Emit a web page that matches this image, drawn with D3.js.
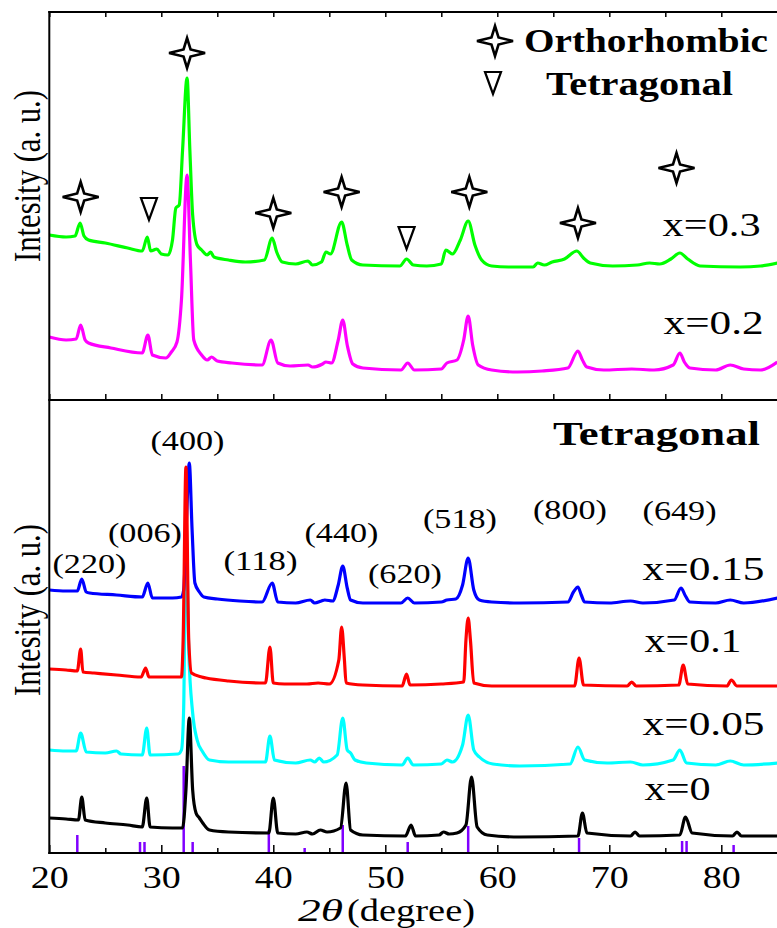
<!DOCTYPE html>
<html>
<head>
<meta charset="utf-8">
<script src="https://cdn.jsdelivr.net/npm/d3@7"></script>
<style>
  body { margin: 0; background: #fff; }
  svg { display: block; }
  svg text { font-family: "Liberation Serif", "Times New Roman", Times, serif; }
</style>
</head>
<body>
<div id="chart"></div>
<script>
// XRD patterns, [2theta, intensity (a.u.)]
const x03 = [[20,165],[21.5,163],[22.3,164],[22.75,177],[23.1,164],[23.5,160],[25,157],[27,152],[28.3,149],[28.75,163],[29.05,149],[29.6,151],[30,146],[30.6,145],[31,160],[31.3,192],[31.6,195],[31.9,250],[32.3,322],[32.55,250],[32.8,185],[33.2,155],[33.6,150],[34.1,145],[34.4,148],[34.7,143],[36,140],[37.5,138],[39.2,140],[39.9,162],[40.3,148],[40.8,138],[42,136],[43.1,139],[43.5,135],[44.3,138],[44.7,148],[45.1,146],[46.1,178],[46.6,155],[47,140],[48,135],[51.3,134],[51.9,141],[52.5,135],[53.7,134],[55,136],[55.4,150],[56,146],[56.7,160],[57.4,179],[58,155],[58.6,140],[59.5,134],[61,133],[63.2,133],[63.6,137],[64.2,135],[64.9,138],[66,141],[67.1,149],[67.7,142],[68.3,137],[70.3,134],[72.5,135],[73.6,137],[74.5,136],[75.5,141],[76.3,147],[77,141],[78.1,134],[81.7,133],[83.5,134],[85,137]];
const x02 = [[20,63],[21.5,60],[22.4,61],[22.8,75],[23.2,60],[23.5,57],[25.5,52],[28.3,47],[28.8,65],[29.2,45],[30.4,42],[30.9,48],[31.4,58],[31.8,100],[32.3,225],[32.6,140],[32.9,60],[33.6,45],[34.1,40],[34.5,43],[35,39],[36.3,37],[39,35],[39.8,60],[40.4,37],[41.5,34],[43.1,35],[43.5,33],[44.4,36],[44.7,38],[45.2,37],[45.8,60],[46.2,80],[46.6,55],[47.1,36],[48,32],[51.4,30],[52,37],[52.6,30],[55,31],[55.5,37],[56.4,40],[57,60],[57.4,84],[57.8,55],[58.3,35],[59.5,30],[61.8,28],[64,29],[66.3,32],[67.2,49],[67.6,40],[68,33],[69.5,30],[72,31],[74,30],[75.7,35],[76.3,47],[76.7,38],[77.2,32],[79.5,30],[80.8,35],[82,31],[83.5,30],[85,38]];
const x015 = [[20,263],[21.5,262],[22.5,262],[22.9,274],[23.3,261],[23.6,260],[26,258],[28.3,256],[28.8,270],[29.2,255],[31,255],[31.8,256],[32,263],[32.25,333],[32.5,390],[32.75,323],[33,270],[33.4,261],[33.8,256],[35,254],[37,252],[39,251],[39.9,270],[40.4,251],[42,250],[43.3,253],[43.7,250],[44.3,252],[44.6,253],[45.3,252],[45.8,268],[46.2,287],[46.6,265],[46.9,253],[48,250],[51.4,250],[52,255],[52.6,250],[55,251],[55.5,253],[56.3,254],[56.9,268],[57.4,295],[57.9,263],[58.4,253],[59.5,251],[62,250],[66.3,251],[66.8,261],[67.2,266],[67.5,258],[67.8,251],[70,250],[71.9,252],[73,250],[75.8,253],[76.4,265],[76.8,257],[77.2,251],[79.5,250],[80.8,253],[82,250],[85,255]];
const x01 = [[20,184],[21.5,183],[22.5,182],[22.8,204],[23,181],[24,180],[26,178],[28.2,176],[28.6,185],[28.9,176],[30,176],[31.8,176],[31.95,213],[32.2,386],[32.45,213],[32.7,180],[33.6,176],[34,175],[36,172],[39.3,170],[39.7,206],[40,170],[41,169],[43,169],[44,170],[45,169],[45.85,193],[46.1,226],[46.35,193],[46.5,170],[48,168],[51.5,167],[51.9,179],[52.2,168],[55,169],[57,171],[57.2,213],[57.4,235],[57.6,213],[57.9,170],[59.5,167],[66.9,167],[67.3,195],[67.7,168],[71.6,167],[72,171],[72.4,167],[76.2,168],[76.6,188],[77,169],[80.5,167],[80.9,173],[81.4,167],[85,167]];
const x005 = [[20,103],[21.5,102],[22.4,102],[22.8,120],[23.3,101],[25,100],[26,102],[26.4,99],[28.3,98],[28.7,125],[29,98],[31.5,99],[31.8,103],[32,146],[32.2,330],[32.45,203],[32.8,140],[33.2,113],[33.7,101],[34.3,93],[36,91],[39.3,91],[39.7,117],[40.1,93],[42,90],[43.3,93],[43.7,91],[44.1,95],[44.5,91],[45.7,98],[46.2,135],[46.6,103],[46.9,100],[47.3,93],[48.3,90],[51.5,88],[52,95],[52.5,88],[55,89],[55.5,93],[56,91],[56.9,108],[57.4,138],[57.9,103],[58.4,96],[59.6,89],[62,87],[66.5,89],[67.2,106],[67.8,93],[69.8,90],[71.9,91],[73,88],[75.7,93],[76.3,103],[76.9,90],[79.5,88],[80.8,92],[82,88],[85,90]];
const x0 = [[20,35],[21.5,34],[22.6,33],[22.9,56],[23.2,33],[25,30],[27,28],[28.3,26],[28.7,55],[29,26],[31,25],[31.9,25],[32.2,63],[32.5,135],[32.8,63],[33.1,40],[33.4,35],[33.7,30],[34.3,23],[36,21],[39.6,20],[40,55],[40.4,20],[42,19],[43,21],[43.5,19],[44.2,23],[44.8,21],[46,25],[46.5,70],[46.9,23],[48,18],[51.8,17],[52.3,28],[52.7,17],[54.8,18],[55.2,21],[55.7,19],[56.4,20],[57.2,28],[57.7,76],[58.2,26],[59.1,18],[62,16],[67.2,17],[67.6,40],[68,20],[71.9,17],[72.3,21],[72.7,17],[76.3,18],[76.8,36],[77.4,20],[81,17],[81.4,21],[81.8,17],[85,17]];

// standard tetragonal reference lines
const refTheta = [22.5, 28.1, 28.5, 32.0, 32.8, 39.6, 42.8, 46.2, 52.0, 57.4, 67.3, 76.5, 76.9, 81.1];
const refInt = [18, 11, 11, 87, 11, 23, 5, 28, 11, 27, 15, 12, 12, 8];

// phase markers on the x=0.3 pattern
const orthoMarks = [[22.8,203],[32.3,347],[40.0,187],[46.1,208],[57.5,208],[67.2,177],[76.0,232]];
const tetraMarks = [[28.9,191],[51.9,162]];

// labels
const topSamples = [{ name: "x=0.3", t: 74.76, v: 164 }, { name: "x=0.2", t: 74.85, v: 66 }];
const botSamples = [
  { name: "x=0.15", t: 72.97, v: 273 }, { name: "x=0.1", t: 73.15, v: 201 },
  { name: "x=0.05", t: 72.97, v: 118 }, { name: "x=0", t: 73.15, v: 53 }
];
const hklLabels = ["(220)", "(006)", "(400)", "(118)", "(440)", "(620)", "(518)", "(800)", "(649)"];
const hklTheta = [23.59, 28.54, 32.34, 38.86, 46.09, 51.76, 56.67, 66.49, 76.27];
const hklInt = [280, 311, 403, 283, 311, 270, 325, 334, 333];
const xTicks = [20, 30, 40, 50, 60, 70, 80];
const xMinor = [25, 35, 45, 55, 65, 75, 85];

const W = 777, H = 928;
const svg = d3.select("#chart").append("svg").attr("width", W).attr("height", H);

const x = d3.scaleLinear().domain([20, 85]).range([49.3, 777.3]);
const yTop = d3.scaleLinear().domain([0, 388]).range([400, 12]);
const yBot = d3.scaleLinear().domain([0, 453]).range([853, 400]);

function drawCurve(data, y, color) {
  const line = d3.line().x(d => x(d[0])).y(d => y(d[1])).curve(d3.curveMonotoneX);
  svg.append("path").datum(data)
    .attr("d", line)
    .attr("fill", "none")
    .attr("stroke", color)
    .attr("stroke-width", 3.2)
    .attr("stroke-linejoin", "round");
}

// stretched text, like the original figure
function label(txt, px, py, size, len, opts = {}) {
  return svg.append("text")
    .attr("x", px).attr("y", py)
    .style("font-size", size + "px")
    .style("font-weight", opts.bold ? "bold" : "normal")
    .style("font-style", opts.italic ? "italic" : "normal")
    .attr("text-anchor", opts.anchor || "start")
    .attr("textLength", len)
    .attr("lengthAdjust", "spacingAndGlyphs")
    .attr("fill", "#000")
    .text(txt);
}

// reference sticks
svg.append("g").selectAll("line")
  .data(refTheta)
  .enter().append("line")
  .attr("x1", d => x(d)).attr("x2", d => x(d))
  .attr("y1", yBot(0)).attr("y2", (d, i) => yBot(refInt[i]))
  .attr("stroke", "#8000ff").attr("stroke-width", 2.5);

// patterns
drawCurve(x02, yTop, "#ff00ff");
drawCurve(x03, yTop, "#00ff00");
drawCurve(x005, yBot, "#00ffff");
drawCurve(x015, yBot, "#0000ff");
drawCurve(x01, yBot, "#ff0000");
drawCurve(x0, yBot, "#000000");

// frame and axes
const frame = svg.append("g").attr("stroke", "#000").attr("stroke-width", 2);
frame.append("line").attr("x1", 49.3).attr("x2", 49.3).attr("y1", 11).attr("y2", 854);
frame.append("line").attr("x1", 48.3).attr("x2", W).attr("y1", 12).attr("y2", 12);
frame.append("line").attr("x1", 48.3).attr("x2", W).attr("y1", 400).attr("y2", 400);

const topAxis = svg.append("g").attr("transform", "translate(0,12)")
  .call(d3.axisTop(x).tickValues(xTicks.concat(xMinor)).tickSize(-5).tickSizeOuter(0).tickFormat(""));
const midAxis = svg.append("g").attr("transform", "translate(0,400)")
  .call(d3.axisBottom(x).tickValues(xTicks.concat(xMinor)).tickSize(-6).tickSizeOuter(0).tickFormat(""));
const botMinor = svg.append("g").attr("transform", "translate(0,853)")
  .call(d3.axisBottom(x).tickValues(xMinor).tickSize(-5).tickSizeOuter(0).tickFormat(""));
const botAxis = svg.append("g").attr("transform", "translate(0,853)")
  .call(d3.axisBottom(x).tickValues(xTicks).tickSize(-8).tickSizeOuter(0));

[topAxis, midAxis, botMinor, botAxis].forEach(g => {
  g.attr("font-family", null);
  g.select(".domain").remove();
  g.selectAll(".tick line").attr("stroke", "#000").attr("stroke-width", 1.5);
});
botAxis.append("line").attr("x1", 48.3).attr("x2", W).attr("stroke", "#000").attr("stroke-width", 2);
botAxis.selectAll(".tick text")
  .attr("y", 35).attr("dy", 0)
  .style("font-size", "32px").attr("fill", "#000")
  .attr("textLength", 38).attr("lengthAdjust", "spacingAndGlyphs");

// axis titles
label("2\u03b8", 298, 921, 32, 45, { italic: true });
label("(degree)", 347, 921, 32, 128);
[176, 610].forEach(cy => {
  svg.append("text")
    .attr("transform", `translate(40,${cy}) scale(1.25,1) rotate(-90)`)
    .style("font-size", "30px")
    .attr("text-anchor", "middle")
    .attr("textLength", 172).attr("lengthAdjust", "spacingAndGlyphs")
    .text("Intesity (a. u.)");
});

// markers
const starPath = "M0,-15 L3.5,-3.5 L18,0 L3.5,3.5 L0,15 L-3.5,3.5 L-18,0 L-3.5,-3.5 Z";
const triPath = "M-8,-11 L8,-11 L0,11 Z";
svg.append("g").selectAll("path")
  .data(orthoMarks).enter().append("path")
  .attr("d", starPath)
  .attr("transform", d => `translate(${x(d[0])},${yTop(d[1])})`)
  .attr("fill", "#fff").attr("stroke", "#000").attr("stroke-width", 2.6);
svg.append("g").selectAll("path")
  .data(tetraMarks).enter().append("path")
  .attr("d", triPath)
  .attr("transform", d => `translate(${x(d[0])},${yTop(d[1])})`)
  .attr("fill", "#fff").attr("stroke", "#000").attr("stroke-width", 2.2);

// legend
svg.append("path").attr("d", starPath).attr("transform", "translate(495,41)")
  .attr("fill", "#fff").attr("stroke", "#000").attr("stroke-width", 2.6);
svg.append("path").attr("d", triPath).attr("transform", "translate(493,83)")
  .attr("fill", "#fff").attr("stroke", "#000").attr("stroke-width", 2.2);
label("Orthorhombic", 524, 52, 33, 244, { bold: true });
label("Tetragonal", 546, 95, 33, 187, { bold: true });
label("Tetragonal", 553, 445, 34, 207, { bold: true });

// sample names
const sampleLen = { "x=0.3": 98, "x=0.2": 100, "x=0.15": 122, "x=0.1": 97, "x=0.05": 122, "x=0": 66 };
topSamples.forEach(s => label(s.name, x(s.t), yTop(s.v), 33, sampleLen[s.name]));
botSamples.forEach(s => label(s.name, x(s.t), yBot(s.v), 34, sampleLen[s.name]));

// Miller indices
hklLabels.forEach((h, i) => label(h, x(hklTheta[i]), yBot(hklInt[i]), 28, 74, { anchor: "middle" }));
</script>
</body>
</html>
